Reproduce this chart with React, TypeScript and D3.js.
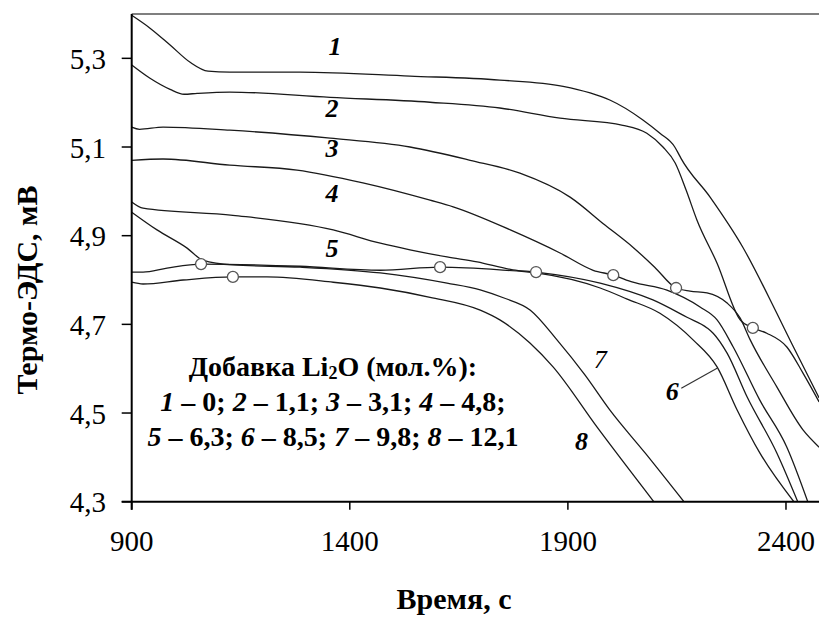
import React from "react";
import * as d3 from "d3";

// ---- data (time, s ; thermo-EMF, mV) ----
const curve1: [number, number][] = [
  [900, 5.397], [942, 5.368], [988, 5.33], [1034, 5.291], [1075, 5.271], [1125, 5.269],
  [1286, 5.269], [1538, 5.26], [1744, 5.251], [1889, 5.237], [1951, 5.222], [1996, 5.206],
  [2072, 5.161], [2111, 5.131], [2145, 5.1], [2152, 5.088], [2159, 5.075], [2226, 4.987],
  [2301, 4.874], [2379, 4.725], [2414, 4.655], [2476, 4.534],
];
const curve2: [number, number][] = [
  [900, 5.285], [942, 5.255], [988, 5.23], [1020, 5.219], [1050, 5.221], [1125, 5.224],
  [1355, 5.212], [1584, 5.201], [1744, 5.188], [1882, 5.165], [2026, 5.149], [2081, 5.131],
  [2118, 5.1], [2146, 5.064], [2171, 5.003], [2196, 4.935], [2242, 4.838], [2295, 4.71],
  [2324, 4.692], [2356, 4.68], [2402, 4.649], [2439, 4.59], [2476, 4.525],
];
const curve3: [number, number][] = [
  [900, 5.145], [918, 5.14], [972, 5.145], [1125, 5.138], [1355, 5.12], [1538, 5.1],
  [1676, 5.07], [1790, 5.041], [1905, 4.987], [1985, 4.924], [2049, 4.874], [2099, 4.829],
  [2148, 4.782], [2180, 4.775], [2219, 4.771], [2265, 4.748], [2295, 4.714], [2318, 4.665],
  [2379, 4.559], [2439, 4.462], [2476, 4.423],
];
const curve4: [number, number][] = [
  [900, 5.07], [972, 5.073], [1125, 5.059], [1279, 5.048], [1430, 5.019], [1584, 4.98],
  [1637, 4.965], [1768, 4.913], [1882, 4.861], [1958, 4.822], [2004, 4.811], [2049, 4.795],
  [2127, 4.777], [2203, 4.739], [2242, 4.71], [2279, 4.649], [2340, 4.529], [2402, 4.423],
  [2450, 4.3],
];
const curve5: [number, number][] = [
  [900, 4.976], [926, 4.962], [1132, 4.946], [1362, 4.913], [1470, 4.883], [1538, 4.868],
  [1623, 4.852], [1692, 4.841], [1774, 4.823], [1827, 4.818], [1974, 4.793], [2095, 4.755],
  [2173, 4.716], [2219, 4.692], [2233, 4.68], [2265, 4.635], [2311, 4.536], [2379, 4.41],
  [2427, 4.3],
];
const curve6: [number, number][] = [
  [900, 4.818], [926, 4.818], [981, 4.827], [1059, 4.836], [1286, 4.831], [1470, 4.822],
  [1607, 4.829], [1744, 4.823], [1827, 4.816], [1974, 4.782], [2036, 4.757], [2111, 4.725],
  [2187, 4.665], [2242, 4.604], [2288, 4.507], [2340, 4.41], [2418, 4.3],
];
const curve7: [number, number][] = [
  [900, 4.953], [958, 4.913], [1027, 4.872], [1063, 4.845], [1132, 4.834], [1286, 4.829],
  [1470, 4.816], [1623, 4.793], [1699, 4.778], [1752, 4.76], [1814, 4.732], [1875, 4.665],
  [1939, 4.586], [1996, 4.507], [2077, 4.41], [2166, 4.3],
];
const curve8: [number, number][] = [
  [900, 4.795], [926, 4.791], [1018, 4.8], [1132, 4.807], [1210, 4.807], [1362, 4.795],
  [1470, 4.782], [1584, 4.761], [1699, 4.732], [1744, 4.71], [1813, 4.658], [1866, 4.604],
  [1967, 4.468], [2097, 4.3],
];
const curves = [curve1, curve2, curve3, curve4, curve5, curve6, curve7, curve8];

// break-point markers (open circles)
const markerTime = [1059, 1132, 1607, 1827, 2004, 2148, 2324];
const markerEmf = [4.836, 4.807, 4.829, 4.818, 4.811, 4.782, 4.692];

// curve number labels
const labelText = ["1", "2", "3", "4", "5", "6", "7", "8"];
const labelTime = [1366, 1359, 1359, 1359, 1359, 2139, 1974, 1931];
const labelEmf = [5.307, 5.167, 5.077, 4.976, 4.852, 4.53, 4.601, 4.417];
const labelBold = [true, true, true, true, true, true, false, true];

// leader line for label 6
const leader6: [number, number][] = [[2160, 4.556], [2242, 4.601]];

const xTicks = [900, 1400, 1900, 2400];
const yTicks = [4.3, 4.5, 4.7, 4.9, 5.1, 5.3];

const W = 819;
const H = 617;
const left = 131.7;
const right = 819;
const top = 14;
const bottom = 501.7;

const FONT =
  "'Times New Roman', Times, 'Liberation Serif', 'Nimbus Roman', 'Nimbus Roman No9 L', FreeSerif, 'Noto Serif', 'DejaVu Serif', serif";

export default function App() {
  const x = d3.scaleLinear().domain([900, 2475.7]).range([left, right]);
  const y = d3.scaleLinear().domain([4.3, 5.4]).range([bottom, top]);
  const line = d3
    .line<[number, number]>()
    .x((d) => x(d[0]))
    .y((d) => y(d[1]))
    .curve(d3.curveMonotoneX);
  const fmt = (v: number) => v.toFixed(1).replace(".", ",");
  const tf = { fontFamily: FONT, whiteSpace: "pre" as const };

  return (
    <svg
      width={W}
      height={H}
      style={{ position: "absolute", left: 0, top: 0, background: "#fff", fontFamily: FONT }}
    >
      <defs>
        <clipPath id="plot">
          <rect x={left} y={top} width={right - left} height={bottom - top} />
        </clipPath>
      </defs>
      <rect x={0} y={0} width={W} height={H} fill="#fff" />

      {/* top frame */}
      <line x1={left} x2={right} y1={top} y2={top} stroke="#555" strokeWidth={1.5} />

      {/* curves */}
      <g clipPath="url(#plot)">
        {curves.map((c, i) => (
          <path key={i} d={line(c) || ""} fill="none" stroke="#1a1a1a" strokeWidth={1.3} />
        ))}
      </g>

      {/* leader for 6 */}
      <path d={line(leader6) || ""} stroke="#333" strokeWidth={1.2} fill="none" />

      {/* markers */}
      {markerTime.map((t, i) => (
        <circle key={i} cx={x(t)} cy={y(markerEmf[i])} r={5.5} fill="#fff" stroke="#555" strokeWidth={1.3} />
      ))}

      {/* curve labels */}
      {labelText.map((s, i) => (
        <text
          key={i}
          x={x(labelTime[i])}
          y={y(labelEmf[i])}
          textAnchor="middle"
          fontSize={26}
          fontStyle="italic"
          fontWeight={labelBold[i] ? "bold" : "normal"}
          fill="#000"
          style={tf}
        >
          {s}
        </text>
      ))}

      {/* axes */}
      <line x1={left} x2={left} y1={top} y2={bottom + 8} stroke="#000" strokeWidth={2} />
      <line x1={left - 10} x2={right} y1={bottom} y2={bottom} stroke="#000" strokeWidth={2} />
      {yTicks.map((v) => (
        <g key={v}>
          <line x1={left - 10} x2={left} y1={y(v)} y2={y(v)} stroke="#000" strokeWidth={1.5} />
          <text x={106} y={y(v) + 10.5} textAnchor="end" fontSize={29} fill="#000" style={tf}>
            {fmt(v)}
          </text>
        </g>
      ))}
      {xTicks.map((t) => (
        <g key={t}>
          <line x1={x(t)} x2={x(t)} y1={bottom} y2={bottom + 8} stroke="#000" strokeWidth={1.5} />
          <text x={x(t)} y={551} textAnchor="middle" fontSize={29} fill="#000" style={tf}>
            {t}
          </text>
        </g>
      ))}

      {/* axis titles */}
      <text x={454} y={609} textAnchor="middle" fontSize={30} fontWeight="bold" fill="#000" style={tf}>
        Время, с
      </text>
      <text
        transform={`translate(37,290) rotate(-90)`}
        textAnchor="middle"
        fontSize={30}
        fontWeight="bold"
        fill="#000"
        style={tf}
      >
        Термо-ЭДС, мВ
      </text>

      {/* legend */}
      <g fontWeight="bold" fontSize={28} fill="#000">
        <text x={333} y={376} textAnchor="middle" style={tf}>
          Добавка Li<tspan fontSize={18} dy={3}>2</tspan>
          <tspan dy={-3}>O (мол.%):</tspan>
        </text>
        <text x={333} y={411} textAnchor="middle" style={tf}>
          <tspan fontStyle="italic">1</tspan>
          <tspan>{" – 0; "}</tspan>
          <tspan fontStyle="italic">2</tspan>
          <tspan>{" – 1,1; "}</tspan>
          <tspan fontStyle="italic">3</tspan>
          <tspan>{" – 3,1; "}</tspan>
          <tspan fontStyle="italic">4</tspan>
          <tspan>{" – 4,8;"}</tspan>
        </text>
        <text x={333} y={446} textAnchor="middle" style={tf}>
          <tspan fontStyle="italic">5</tspan>
          <tspan>{" – 6,3; "}</tspan>
          <tspan fontStyle="italic">6</tspan>
          <tspan>{" – 8,5; "}</tspan>
          <tspan fontStyle="italic">7</tspan>
          <tspan>{" – 9,8; "}</tspan>
          <tspan fontStyle="italic">8</tspan>
          <tspan>{" – 12,1"}</tspan>
        </text>
      </g>
    </svg>
  );
}
